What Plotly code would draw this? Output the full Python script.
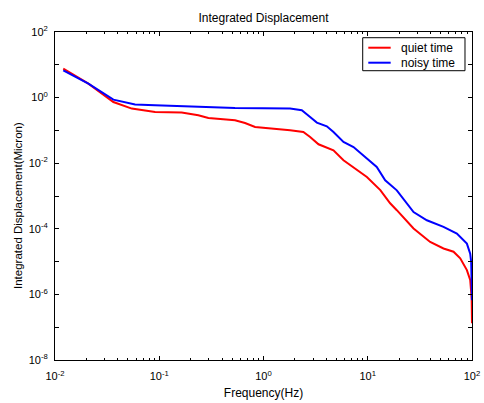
import plotly.graph_objects as go

# ---- data ----
freq_quiet = [0.012, 0.0209, 0.0363, 0.0545, 0.0912, 0.164, 0.237, 0.296, 0.533, 0.665,
              0.830, 1.245, 1.80, 2.41, 2.80, 3.37, 4.69, 5.85, 7.85, 9.81,
              13.2, 16.4, 19.0, 27.5, 39.7, 53.3, 66.5, 77.1, 89.3, 96.1,
              98.2, 99.3, 100.0]
disp_quiet = [7.66, 2.67, 0.734, 0.462, 0.365, 0.349, 0.289, 0.239, 0.203, 0.168,
              0.127, 0.1135, 0.1007, 0.0894, 0.063, 0.0377, 0.0247, 0.01225, 0.00608, 0.0038,
              0.00152, 0.000598, 0.000369, 1.02e-4, 3.98e-5, 2.51e-5, 2.0e-5, 1.26e-5, 5.5e-6, 2.75e-6,
              1.2e-6, 6.8e-7, 1.32e-7]

freq_noisy = [0.012, 0.0209, 0.0363, 0.0586, 0.0912, 0.237, 0.533, 1.80, 2.33, 2.80,
              3.25, 4.05, 4.69, 5.85, 7.30, 9.81, 12.2, 14.7, 19.0, 27.5,
              36.9, 53.3, 71.6, 89.3, 96.1, 98.2, 100.0]
disp_noisy = [6.8, 2.67, 0.869, 0.612, 0.582, 0.516, 0.482, 0.462, 0.41, 0.256,
              0.173, 0.133, 0.0894, 0.0443, 0.0312, 0.0138, 0.00766, 0.00301, 0.00149, 3.25e-4,
              1.82e-4, 1.14e-4, 7.14e-5, 3.54e-5, 1.74e-5, 9.8e-6, 6.6e-7]

series_names = ["quiet time", "noisy time"]
series_colors = ["#ff0000", "#0000ff"]

y_label_exponents = [-8, -6, -4, -2, 0, 2]
y_minor_exponents = [-7, -5, -3, -1, 1]
x_exponents = [-2, -1, 0, 1, 2]
x_minor_mult = [2, 3, 4, 5, 6, 7, 8, 9]

y_tick_vals = [10.0 ** e for e in y_label_exponents]
y_tick_text = ["10<sup>%d</sup>" % e for e in y_label_exponents]
y_minor_vals = [10.0 ** e for e in y_minor_exponents]
x_tick_vals = [10.0 ** e for e in x_exponents]
x_tick_text = ["10<sup>%d</sup>" % e for e in x_exponents]
x_minor_vals = [m * 10.0 ** e for e in x_exponents[:-1] for m in x_minor_mult]

FONT = "Liberation Sans, Arial, sans-serif"
BLACK = "black"

fig = go.Figure()
for fx, fy, nm, col in [(freq_quiet, disp_quiet, series_names[0], series_colors[0]),
                        (freq_noisy, disp_noisy, series_names[1], series_colors[1])]:
    fig.add_trace(go.Scatter(x=fx, y=fy, mode="lines", name=nm, showlegend=False,
                             line=dict(color=col, width=2)))

# legend box drawn MATLAB-style (compact rows)
leg_x0, leg_x1, leg_y0, leg_y1 = 0.7379, 0.9832, 0.882, 0.9826
leg_line_x0, leg_line_x1, leg_text_x = 0.7513, 0.805, 0.8257
leg_rows_y = [0.9521, 0.9064]
shapes = [dict(type="rect", xref="paper", yref="paper", x0=leg_x0, x1=leg_x1, y0=leg_y0, y1=leg_y1,
               line=dict(color=BLACK, width=1), fillcolor="white", layer="above")]
annotations = []
for nm, col, ry in zip(series_names, series_colors, leg_rows_y):
    shapes.append(dict(type="line", xref="paper", yref="paper", x0=leg_line_x0, x1=leg_line_x1,
                       y0=ry, y1=ry, line=dict(color=col, width=2), layer="above"))
    annotations.append(dict(text=nm, xref="paper", yref="paper", x=leg_text_x, y=ry,
                            xanchor="left", yanchor="middle", showarrow=False,
                            font=dict(size=12, color=BLACK, family=FONT)))

# y-axis label (placed like MATLAB's ylabel)
annotations.append(dict(text="Integrated Displacement(Micron)", xref="paper", yref="paper",
                        x=-55 / 417 + 18 / 417, y=(360 - 206) / 328, xanchor="center",
                        yanchor="middle", textangle=-90, showarrow=False,
                        font=dict(size=11.5, color=BLACK, family=FONT)))

fig.update_layout(
    width=484, height=403,
    margin=dict(l=55, r=12, t=32, b=43, autoexpand=False),
    paper_bgcolor="white", plot_bgcolor="white",
    font=dict(family=FONT, size=11, color=BLACK),
    title=dict(text="Integrated Displacement", x=0.5, xref="paper", xanchor="center",
               y=1 - 18 / 403, yref="container", yanchor="middle",
               font=dict(size=12, color=BLACK, family=FONT)),
    showlegend=False,
    shapes=shapes,
    annotations=annotations,
    xaxis=dict(type="log", range=[-2, 2], showgrid=False, zeroline=False,
               showline=True, linecolor=BLACK, linewidth=1, mirror="ticks",
               ticks="inside", ticklen=4, tickcolor=BLACK, tickwidth=1,
               tickmode="array", tickvals=x_tick_vals, ticktext=x_tick_text,
               ticklabelstandoff=6,
               tickfont=dict(size=11, color=BLACK, family=FONT),
               minor=dict(tickmode="array", tickvals=x_minor_vals, ticks="inside",
                          ticklen=2, tickcolor=BLACK, tickwidth=1, showgrid=False),
               title=dict(text="Frequency(Hz)", standoff=7,
                          font=dict(size=12, color=BLACK, family=FONT))),
    yaxis=dict(type="log", range=[-8, 2], showgrid=False, zeroline=False,
               showline=True, linecolor=BLACK, linewidth=1, mirror="ticks",
               ticks="inside", ticklen=4, tickcolor=BLACK, tickwidth=1,
               tickmode="array", tickvals=y_tick_vals, ticktext=y_tick_text,
               ticklabelstandoff=4,
               tickfont=dict(size=11, color=BLACK, family=FONT),
               minor=dict(tickmode="array", tickvals=y_minor_vals, ticks="inside",
                          ticklen=4, tickcolor=BLACK, tickwidth=1, showgrid=False)),
)

fig.write_html("out.html", config={"displayModeBar": False},
               post_script="document.body.style.margin='0';document.body.style.padding='0';")
